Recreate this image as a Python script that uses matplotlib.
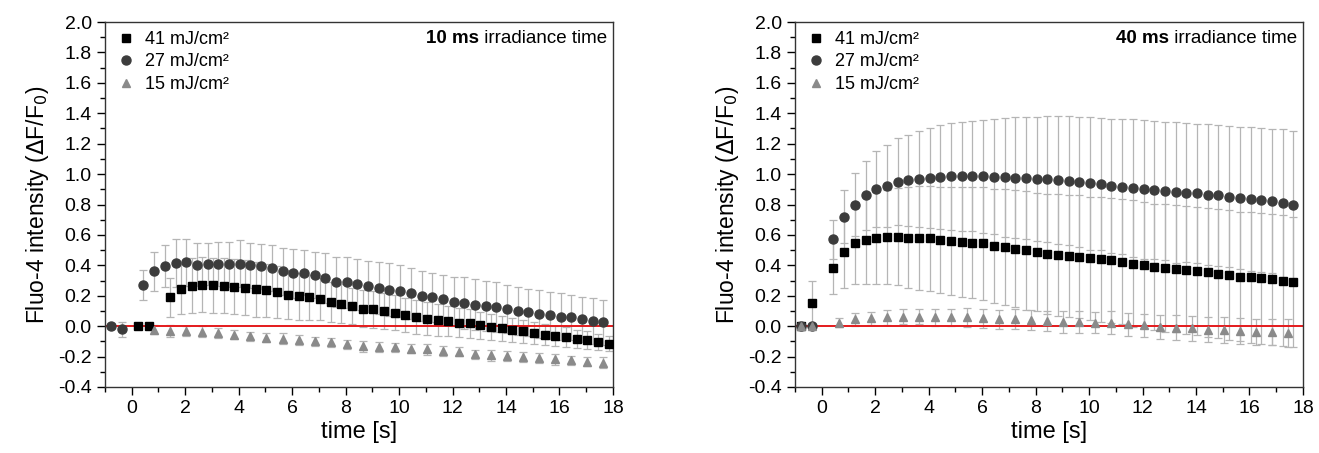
# Fluo-4 intensity after irradiation, two panels (10 ms and 40 ms)
import matplotlib
matplotlib.use("Agg")
import matplotlib.pyplot as plt
from matplotlib.ticker import MultipleLocator

plt.rcParams['font.family'] = ['Liberation Sans', 'DejaVu Sans']

# time points [s]
t_circ = [-0.76, -0.36, 0.44, 0.84, 1.24, 1.64, 2.04, 2.44, 2.84, 3.24, 3.64, 4.04,
          4.44, 4.84, 5.24, 5.64, 6.04, 6.44, 6.84, 7.24, 7.64, 8.04, 8.44, 8.84,
          9.24, 9.64, 10.04, 10.44, 10.84, 11.24, 11.64, 12.04, 12.44, 12.84, 13.24,
          13.64, 14.04, 14.44, 14.84, 15.24, 15.64, 16.04, 16.44, 16.84, 17.24, 17.64]
t_sq_left = [0.24, 0.64, 1.44, 1.84, 2.24, 2.64, 3.04, 3.44, 3.84, 4.24, 4.64, 5.04,
             5.44, 5.84, 6.24, 6.64, 7.04, 7.44, 7.84, 8.24, 8.64, 9.04, 9.44, 9.84,
             10.24, 10.64, 11.04, 11.44, 11.84, 12.24, 12.64, 13.04, 13.44, 13.84,
             14.24, 14.64, 15.04, 15.44, 15.84, 16.24, 16.64, 17.04, 17.44, 17.84]
t_tri_left = [0.84, 1.44, 2.04, 2.64, 3.24, 3.84, 4.44, 5.04, 5.64, 6.24, 6.84, 7.44,
              8.04, 8.64, 9.24, 9.84, 10.44, 11.04, 11.64, 12.24, 12.84, 13.44, 14.04,
              14.64, 15.24, 15.84, 16.44, 17.04, 17.64]
t_tri_right = [-0.76, -0.36, 0.64, 1.24, 1.84, 2.44, 3.04, 3.64, 4.24, 4.84, 5.44, 6.04,
               6.64, 7.24, 7.84, 8.44, 9.04, 9.64, 10.24, 10.84, 11.44, 12.04, 12.64,
               13.24, 13.84, 14.44, 15.04, 15.64, 16.24, 16.84, 17.44]

# 10 ms panel
l41 = [0.0, 0.0, 0.19, 0.245, 0.265, 0.272, 0.268, 0.265, 0.259, 0.252, 0.243, 0.237,
       0.226, 0.208, 0.197, 0.189, 0.178, 0.16, 0.149, 0.134, 0.116, 0.11, 0.099, 0.088,
       0.072, 0.061, 0.05, 0.039, 0.033, 0.024, 0.018, 0.005, -0.005, -0.015, -0.025,
       -0.035, -0.045, -0.055, -0.063, -0.072, -0.082, -0.092, -0.103, -0.115]
l41_err = [0.015, 0.015, 0.13, 0.165, 0.18, 0.18, 0.18, 0.18, 0.18, 0.18, 0.18, 0.175,
           0.17, 0.163, 0.155, 0.148, 0.14, 0.133, 0.126, 0.12, 0.122, 0.12, 0.117, 0.115,
           0.112, 0.11, 0.107, 0.104, 0.1, 0.097, 0.094, 0.09, 0.087, 0.083, 0.08, 0.077,
           0.074, 0.07, 0.067, 0.064, 0.06, 0.057, 0.054, 0.05]
l27 = [0.0, -0.02, 0.27, 0.36, 0.395, 0.415, 0.42, 0.405, 0.408, 0.41, 0.406, 0.41,
       0.40, 0.393, 0.384, 0.36, 0.348, 0.352, 0.335, 0.316, 0.292, 0.288, 0.274, 0.263,
       0.252, 0.241, 0.23, 0.215, 0.199, 0.189, 0.176, 0.162, 0.153, 0.14, 0.132, 0.125,
       0.112, 0.101, 0.09, 0.081, 0.072, 0.061, 0.057, 0.045, 0.035, 0.025]
l27_err = [0.02, 0.05, 0.10, 0.13, 0.14, 0.155, 0.155, 0.14, 0.14, 0.145, 0.15, 0.155,
           0.15, 0.15, 0.15, 0.156, 0.16, 0.15, 0.15, 0.165, 0.166, 0.17, 0.166, 0.167,
           0.17, 0.173, 0.17, 0.165, 0.165, 0.16, 0.16, 0.163, 0.17, 0.167, 0.164, 0.164,
           0.158, 0.158, 0.155, 0.156, 0.154, 0.154, 0.147, 0.15, 0.15, 0.15]
l15 = [-0.022, -0.031, -0.031, -0.037, -0.046, -0.055, -0.066, -0.077, -0.083, -0.092,
       -0.099, -0.107, -0.118, -0.132, -0.136, -0.14, -0.147, -0.153, -0.164, -0.169,
       -0.184, -0.191, -0.196, -0.203, -0.21, -0.218, -0.225, -0.233, -0.24]
l15_err = [0.03, 0.04, 0.035, 0.035, 0.035, 0.03, 0.03, 0.03, 0.035, 0.035, 0.03, 0.03,
           0.03, 0.035, 0.035, 0.03, 0.03, 0.035, 0.035, 0.03, 0.03, 0.035, 0.03, 0.03,
           0.035, 0.035, 0.03, 0.03, 0.035]

# 40 ms panel
r41 = [0.0, 0.155, 0.384, 0.49, 0.544, 0.566, 0.579, 0.588, 0.588, 0.583, 0.579, 0.577,
       0.566, 0.561, 0.553, 0.55, 0.544, 0.528, 0.522, 0.509, 0.498, 0.487, 0.476, 0.469,
       0.462, 0.458, 0.445, 0.439, 0.432, 0.423, 0.412, 0.401, 0.39, 0.383, 0.379, 0.368,
       0.362, 0.353, 0.344, 0.336, 0.325, 0.321, 0.314, 0.307, 0.298, 0.291]
r41_err = [0.02, 0.14, 0.17, 0.24, 0.27, 0.29, 0.30, 0.31, 0.32, 0.33, 0.34, 0.345,
           0.35, 0.355, 0.36, 0.365, 0.37, 0.375, 0.38, 0.385, 0.39, 0.39, 0.395, 0.40,
           0.40, 0.405, 0.405, 0.41, 0.41, 0.41, 0.415, 0.415, 0.415, 0.42, 0.42, 0.42,
           0.42, 0.425, 0.425, 0.425, 0.425, 0.43, 0.43, 0.43, 0.43, 0.43]
r27 = [0.0, 0.0, 0.57, 0.72, 0.80, 0.86, 0.90, 0.92, 0.95, 0.96, 0.97, 0.976,
       0.98, 0.985, 0.985, 0.988, 0.985, 0.983, 0.978, 0.976, 0.974, 0.969, 0.967, 0.961,
       0.956, 0.949, 0.94, 0.932, 0.921, 0.917, 0.906, 0.899, 0.895, 0.888, 0.879, 0.877,
       0.873, 0.864, 0.86, 0.851, 0.844, 0.836, 0.829, 0.822, 0.807, 0.796]
r27_err = [0.02, 0.02, 0.13, 0.175, 0.21, 0.225, 0.25, 0.27, 0.285, 0.30, 0.315, 0.33,
           0.34, 0.35, 0.357, 0.362, 0.37, 0.377, 0.39, 0.397, 0.40, 0.408, 0.413, 0.419,
           0.424, 0.428, 0.437, 0.434, 0.443, 0.445, 0.454, 0.456, 0.455, 0.456, 0.461,
           0.456, 0.458, 0.463, 0.462, 0.465, 0.467, 0.473, 0.471, 0.474, 0.487, 0.489]
r15 = [0.0, 0.0, 0.022, 0.044, 0.051, 0.057, 0.061, 0.061, 0.057, 0.057, 0.057, 0.051,
       0.044, 0.045, 0.039, 0.035, 0.028, 0.028, 0.024, 0.024, 0.013, 0.007, -0.005,
       -0.009, -0.015, -0.022, -0.026, -0.031, -0.037, -0.037, -0.044]
r15_err = [0.01, 0.01, 0.03, 0.04, 0.045, 0.05, 0.05, 0.05, 0.055, 0.055, 0.06, 0.06,
           0.06, 0.065, 0.065, 0.065, 0.07, 0.07, 0.07, 0.075, 0.075, 0.075, 0.08, 0.08,
           0.08, 0.08, 0.085, 0.085, 0.085, 0.085, 0.09]

labels = ["41 mJ/cm²", "27 mJ/cm²", "15 mJ/cm²"]
panels = [
    ("10 ms", [(t_sq_left, l41, l41_err), (t_circ, l27, l27_err), (t_tri_left, l15, l15_err)]),
    ("40 ms", [(t_circ, r41, r41_err), (t_circ, r27, r27_err), (t_tri_right, r15, r15_err)]),
]

markers = ["s", "o", "^"]
colors = ["#000000", "#3c3c3c", "#8a8a8a"]
sizes = [5.5, 6.5, 6.0]

fig = plt.figure(figsize=(13.19, 4.53), dpi=100)
axes = [fig.add_axes([0.0796, 0.1457, 0.3851, 0.8057]),
        fig.add_axes([0.6027, 0.1457, 0.3851, 0.8057])]

for ax, (dur, series) in zip(axes, panels):
    ax.axhline(0, color="#e41a1c", lw=1.4, zorder=2)
    for (t, v, e) in series:
        ax.errorbar(t, v, yerr=e, fmt="none", ecolor="#b5b5b5", elinewidth=0.9,
                    capsize=3, capthick=0.9, zorder=1)
    handles = []
    for (t, v, e), m, c, s, lab in zip(series, markers, colors, sizes, labels):
        h, = ax.plot(t, v, ls="none", marker=m, color=c, ms=s, mec=c, label=lab, zorder=3)
        handles.append(h)

    ax.set_xlim(-1, 18)
    ax.set_ylim(-0.4, 2.0)
    ax.xaxis.set_major_locator(MultipleLocator(2))
    ax.xaxis.set_minor_locator(MultipleLocator(1))
    ax.yaxis.set_major_locator(MultipleLocator(0.2))
    ax.yaxis.set_minor_locator(MultipleLocator(0.1))
    ax.yaxis.set_major_formatter(plt.FuncFormatter(lambda y, p: f"{y:.1f}"))
    ax.tick_params(which="major", direction="out", length=6, width=1, labelsize=14,
                   top=False, right=False)
    ax.tick_params(which="minor", direction="out", length=3.5, width=1,
                   top=False, right=False)
    for sp in ax.spines.values():
        sp.set_linewidth(1.0)
        sp.set_color("#333333")

    ax.set_xlabel("time [s]", fontsize=17, labelpad=3)
    ax.set_ylabel("Fluo-4 intensity ($\\Delta$F/F$_0$)", fontsize=16.5, labelpad=5)

    ax.legend(handles=handles, loc="upper left", frameon=False, fontsize=13,
              handlelength=1.33, handletextpad=0.39, labelspacing=0.3,
              borderaxespad=0.2, borderpad=0.3)

    txt = ax.text(0.989, 0.956, " irradiance time", transform=ax.transAxes,
                  ha="right", va="center", fontsize=13.5)
    ax.annotate(dur, xy=(0, 0.5), xycoords=txt, ha="right", va="center",
                fontsize=13.5, fontweight="bold")

fig.savefig("out.png", dpi=100)
